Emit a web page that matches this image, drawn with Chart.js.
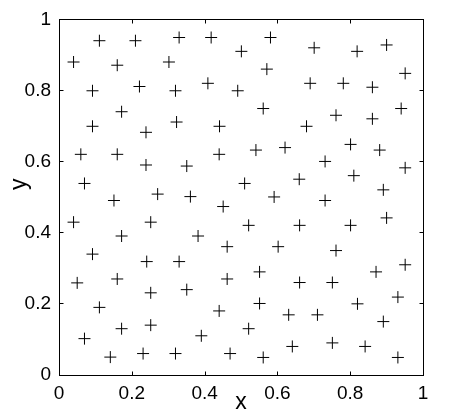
<!DOCTYPE html>
<html>
<head>
<meta charset="utf-8">
<script src="https://cdn.jsdelivr.net/npm/chart.js@4"></script>
<style>
html,body{margin:0;padding:0;background:#fff;}
#wrap{width:460px;height:418px;}
</style>
</head>
<body>
<div id="wrap"><canvas id="c" width="460" height="418"></canvas></div>
<script>
const xValues = [0.111,0.210,0.330,0.418,0.040,0.160,0.302,0.092,0.221,0.320,
  0.409,0.172,0.092,0.239,0.323,0.441,0.060,0.160,0.239,0.351,
  0.440,0.070,0.151,0.271,0.361,0.451,0.581,0.501,0.701,0.819,
  0.900,0.571,0.951,0.491,0.690,0.781,0.861,0.561,0.761,0.861,
  0.940,0.680,0.541,0.621,0.801,0.881,0.731,0.951,0.510,0.660,
  0.810,0.591,0.731,0.891,0.900,0.040,0.252,0.172,0.382,0.462,
  0.092,0.241,0.330,0.050,0.160,0.252,0.351,0.462,0.111,0.440,
  0.070,0.172,0.252,0.391,0.141,0.231,0.320,0.470,0.521,0.661,
  0.801,0.602,0.761,0.551,0.661,0.751,0.871,0.951,0.551,0.631,
  0.710,0.820,0.931,0.521,0.891,0.561,0.641,0.751,0.841,0.931];
const yValues = [0.940,0.940,0.949,0.949,0.880,0.871,0.880,0.799,0.811,0.799,
  0.820,0.740,0.699,0.682,0.711,0.699,0.620,0.620,0.590,0.587,
  0.620,0.538,0.490,0.508,0.501,0.473,0.949,0.910,0.920,0.910,
  0.928,0.860,0.848,0.799,0.820,0.820,0.809,0.749,0.730,0.720,
  0.749,0.699,0.632,0.639,0.648,0.632,0.600,0.582,0.538,0.550,
  0.560,0.500,0.490,0.520,0.441,0.429,0.429,0.390,0.390,0.360,
  0.339,0.318,0.318,0.258,0.269,0.230,0.239,0.269,0.189,0.179,
  0.101,0.129,0.139,0.109,0.049,0.059,0.059,0.059,0.420,0.420,
  0.420,0.360,0.349,0.289,0.259,0.259,0.289,0.309,0.200,0.168,
  0.168,0.199,0.218,0.129,0.149,0.048,0.079,0.089,0.079,0.048];
const tickValues = [0, 0.2, 0.4, 0.6, 0.8, 1];
const xTitle = 'x';
const yTitle = 'y';

const points = xValues.map((x, i) => ({x: x, y: yValues[i]}));
const fmt = v => String(+(+v).toFixed(1));

const framePlugin = {
  id: 'frame',
  afterDraw(chart) {
    const {ctx, chartArea: a, scales} = chart;
    ctx.save();
    ctx.strokeStyle = '#000';
    ctx.lineWidth = 1;
    const L = Math.round(a.left) + 0.5, R = Math.round(a.right) + 0.5;
    const T = Math.round(a.top) + 0.5, B = Math.round(a.bottom) + 0.5;
    ctx.strokeRect(L, T, R - L, B - T);
    const tl = 4;
    ctx.beginPath();
    tickValues.forEach(v => {
      const px = Math.round(scales.x.getPixelForValue(v)) + 0.5;
      ctx.moveTo(px, B); ctx.lineTo(px, B - tl);
      ctx.moveTo(px, T); ctx.lineTo(px, T + tl);
      const py = Math.round(scales.y.getPixelForValue(v)) + 0.5;
      ctx.moveTo(L, py); ctx.lineTo(L + tl, py);
      ctx.moveTo(R, py); ctx.lineTo(R - tl, py);
    });
    ctx.stroke();
    ctx.restore();
  }
};

new Chart(document.getElementById('c'), {
  type: 'scatter',
  data: {
    datasets: [{
      data: points,
      pointStyle: 'cross',
      pointRadius: 6,
      pointHoverRadius: 6,
      borderColor: '#000',
      backgroundColor: '#000',
      borderWidth: 1,
      pointBorderWidth: 1
    }]
  },
  options: {
    responsive: false,
    animation: false,
    events: [],
    layout: {padding: {left: 0, top: 13, right: 37, bottom: 0}},
    plugins: {legend: {display: false}, tooltip: {enabled: false}},
    scales: {
      x: {
        type: 'linear', min: 0, max: 1,
        afterBuildTicks: s => { s.ticks = tickValues.map(v => ({value: v})); },
        afterFit: s => { s.height = 43.5; },
        grid: {display: false, drawTicks: false},
        border: {display: false},
        ticks: {
          color: '#000', padding: 8, maxRotation: 0, autoSkip: false,
          font: {family: '"Liberation Sans", Arial, sans-serif', size: 19},
          callback: v => fmt(v)
        },
        title: {
          display: true, text: xTitle, color: '#000',
          font: {family: '"Liberation Sans", Arial, sans-serif', size: 23},
          padding: {top: 0, bottom: 2}
        }
      },
      y: {
        type: 'linear', min: 0, max: 1,
        afterBuildTicks: s => { s.ticks = tickValues.map(v => ({value: v})); },
        afterFit: s => { s.width = 59; },
        grid: {display: false, drawTicks: false},
        border: {display: false},
        ticks: {
          color: '#000', padding: 8, autoSkip: false,
          font: {family: '"Liberation Sans", Arial, sans-serif', size: 19},
          callback: v => fmt(v)
        },
        title: {
          display: true, text: '    ' + yTitle, color: '#000',
          font: {family: '"Liberation Sans", Arial, sans-serif', size: 23},
          padding: {top: 6, bottom: 0}
        }
      }
    }
  },
  plugins: [framePlugin]
});
</script>
</body>
</html>
